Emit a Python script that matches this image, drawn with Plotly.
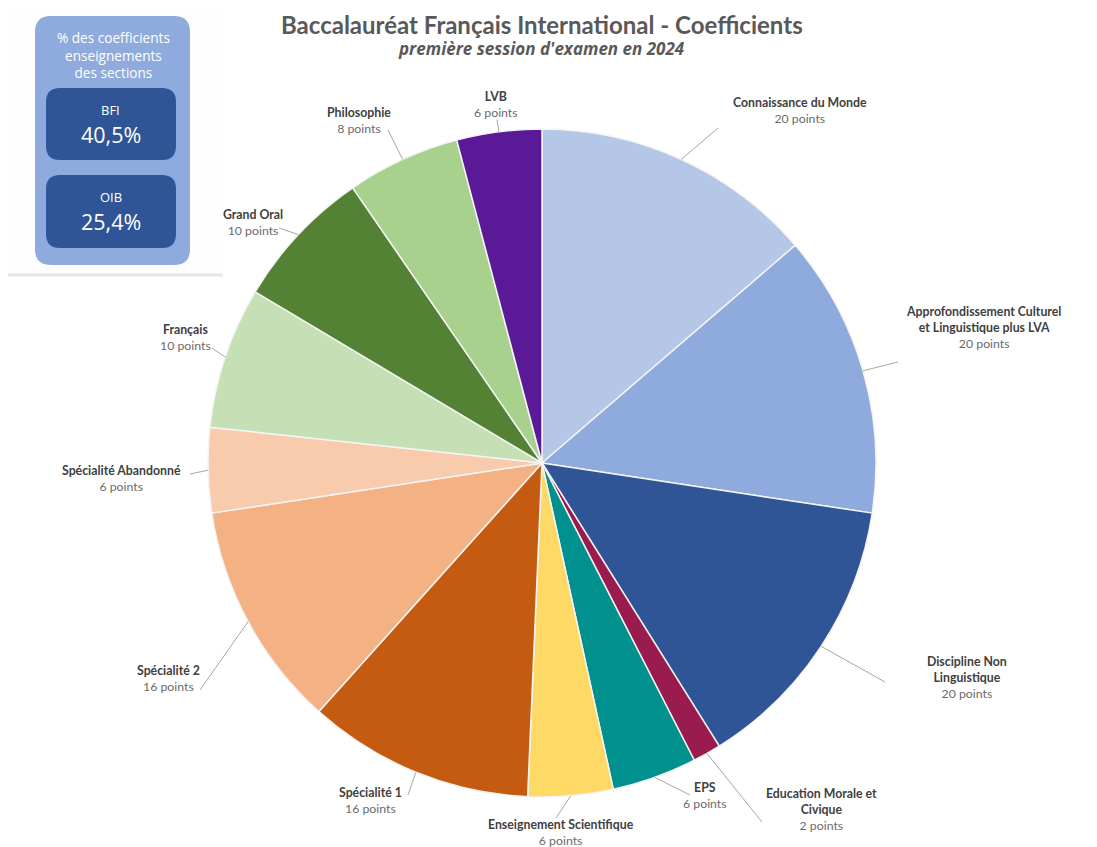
import math
import plotly.graph_objects as go

# ---------------- data ----------------
subjects = ["Connaissance du Monde",
            "Approfondissement Culturel et Linguistique plus LVA",
            "Discipline Non Linguistique",
            "Education Morale et Civique",
            "EPS",
            "Enseignement Scientifique",
            "Spécialité 1",
            "Spécialité 2",
            "Spécialité Abandonné",
            "Français",
            "Grand Oral",
            "Philosophie",
            "LVB"]
label_lines = ["Connaissance du Monde",
               "Approfondissement Culturel<br>et Linguistique plus LVA",
               "Discipline Non<br>Linguistique",
               "Education Morale et<br>Civique",
               "EPS",
               "Enseignement Scientifique",
               "Spécialité 1",
               "Spécialité 2",
               "Spécialité Abandonné",
               "Français",
               "Grand Oral",
               "Philosophie",
               "LVB"]
points = [20, 20, 20, 2, 6, 6, 16, 16, 6, 10, 10, 8, 6]

inset_title = "% des coefficients<br>enseignements<br>des sections"
sections = ["BFI", "OIB"]
section_pct = ["40,5%", "25,4%"]

title = "Baccalauréat Français International - Coefficients"
subtitle = "première session d'examen en 2024"

# ---------------- styles / layout ----------------
colors = ["#B4C7E7", "#8FAADC", "#2F5597", "#9A1B4E", "#00918E", "#FFD966",
          "#C55A11", "#F4B183", "#F8CBAD", "#C5E0B4", "#548235", "#A9D18E", "#5A1A98"]

PAGE_OFF = 8          # default body margin of the written page
W, H = 1089, 839      # figure size so that it fits the window
CX, CY, R = 542, 463, 334   # pie centre / radius in window pixels

# label block centres (window pixels) and connector end points (window pixels)
label_pos = [(800, 110), (983, 328), (967, 677), (821, 809), (705, 795), (561, 832),
             (370, 800), (168, 678), (121, 478), (185, 337), (253, 222), (359, 120), (496, 104)]
line_end = [(718, 128), (898, 362), (885, 682), (762, 822), (690, 795), (556, 818),
            (408, 795), (200, 690), (190, 474), (212, 348), (279, 228), (388, 130), (497, 120)]


def px(x):
    return (x - PAGE_OFF) / W


def py(y):
    return 1 - (y - PAGE_OFF) / H


fig = go.Figure()
fig.add_trace(go.Pie(
    values=points, labels=subjects, sort=False, direction="clockwise", rotation=0,
    marker=dict(colors=colors, line=dict(color="#F4F4F4", width=1.5)),
    textinfo="none", showlegend=False,
    hovertemplate="%{label}<br>%{value} points<extra></extra>",
    domain=dict(x=[px(CX - R), px(CX + R)], y=[py(CY + R), py(CY - R)]),
))

annotations = []
shapes = []

# pie labels and connectors, computed from the slice mid-angles
total = sum(points)
cum = 0
for i, v in enumerate(points):
    mid = (cum + v / 2) / total * 2 * math.pi
    cum += v
    ex = CX + R * math.sin(mid)
    ey = CY - R * math.cos(mid)
    lx, ly = line_end[i]
    shapes.append(dict(type="line", xref="paper", yref="paper",
                       x0=px(ex), y0=py(ey), x1=px(lx), y1=py(ly),
                       line=dict(color="#A6A6A6", width=1)))
    tx, ty = label_pos[i]
    annotations.append(dict(
        x=px(tx), y=py(ty), xref="paper", yref="paper", showarrow=False,
        xanchor="center", yanchor="middle", align="center",
        text=f"<b>{label_lines[i]}</b><br><span style='color:#6b6b6b'>{v} points</span>",
        font=dict(family="Lato", size=12.3, color="#404040")))

# titles
annotations.append(dict(x=px(542), y=py(8), xref="paper", yref="paper", showarrow=False,
                        xanchor="center", yanchor="top",
                        text=f"<b>{title}</b>",
                        font=dict(family="Lato", size=24, color="#595959")))
annotations.append(dict(x=px(541), y=py(49), xref="paper", yref="paper", showarrow=False,
                        xanchor="center", yanchor="middle",
                        text=f"<b><i>{subtitle}</i></b>",
                        font=dict(family="Open Sans", size=17, color="#595959")))


def rrect(x0, y0, x1, y1, r, fill):
    pts = [(x0 + r, y0), (x1 - r, y0), ("Q", x1, y0, x1, y0 + r), (x1, y1 - r),
           ("Q", x1, y1, x1 - r, y1), (x0 + r, y1), ("Q", x0, y1, x0, y1 - r),
           (x0, y0 + r), ("Q", x0, y0, x0 + r, y0)]
    d = f"M {px(pts[0][0])},{py(pts[0][1])} "
    for p in pts[1:]:
        if p[0] == "Q":
            d += f"Q {px(p[1])},{py(p[2])} {px(p[3])},{py(p[4])} "
        else:
            d += f"L {px(p[0])},{py(p[1])} "
    d += "Z"
    return dict(type="path", xref="paper", yref="paper", path=d,
                fillcolor=fill, line=dict(width=0), layer="above")


# inset panel
shapes.append(dict(type="rect", xref="paper", yref="paper", x0=px(8), x1=px(223),
                   y0=py(275), y1=py(8), fillcolor="#FDFDFD", line=dict(width=0), layer="above"))
shapes.append(dict(type="line", xref="paper", yref="paper", x0=px(8), x1=px(223),
                   y0=py(275), y1=py(275), line=dict(color="#E6E6E6", width=3), layer="above"))
shapes.append(rrect(35, 16, 190, 265, 16, "#8FAADC"))
shapes.append(rrect(46, 88, 176, 160, 14, "#2F5597"))
shapes.append(rrect(46, 175, 176, 248, 14, "#2F5597"))

annotations.append(dict(x=px(113), y=py(55), xref="paper", yref="paper", showarrow=False,
                        xanchor="center", yanchor="middle", align="center",
                        text=inset_title,
                        font=dict(family="Open Sans", size=13.6, color="white")))
for (name, pct), yc in zip(zip(sections, section_pct), [110, 197]):
    annotations.append(dict(x=px(111), y=py(yc), xref="paper", yref="paper", showarrow=False,
                            xanchor="center", yanchor="middle", text=name,
                            font=dict(family="Open Sans", size=13, color="white")))
    annotations.append(dict(x=px(111), y=py(yc + 24), xref="paper", yref="paper", showarrow=False,
                            xanchor="center", yanchor="middle", text=pct,
                            font=dict(family="Open Sans", size=21.5, color="white")))

fig.update_layout(width=W, height=H, margin=dict(l=0, r=0, t=0, b=0),
                  paper_bgcolor="white", plot_bgcolor="white",
                  annotations=annotations, shapes=shapes)

fig.write_html("out.html")
